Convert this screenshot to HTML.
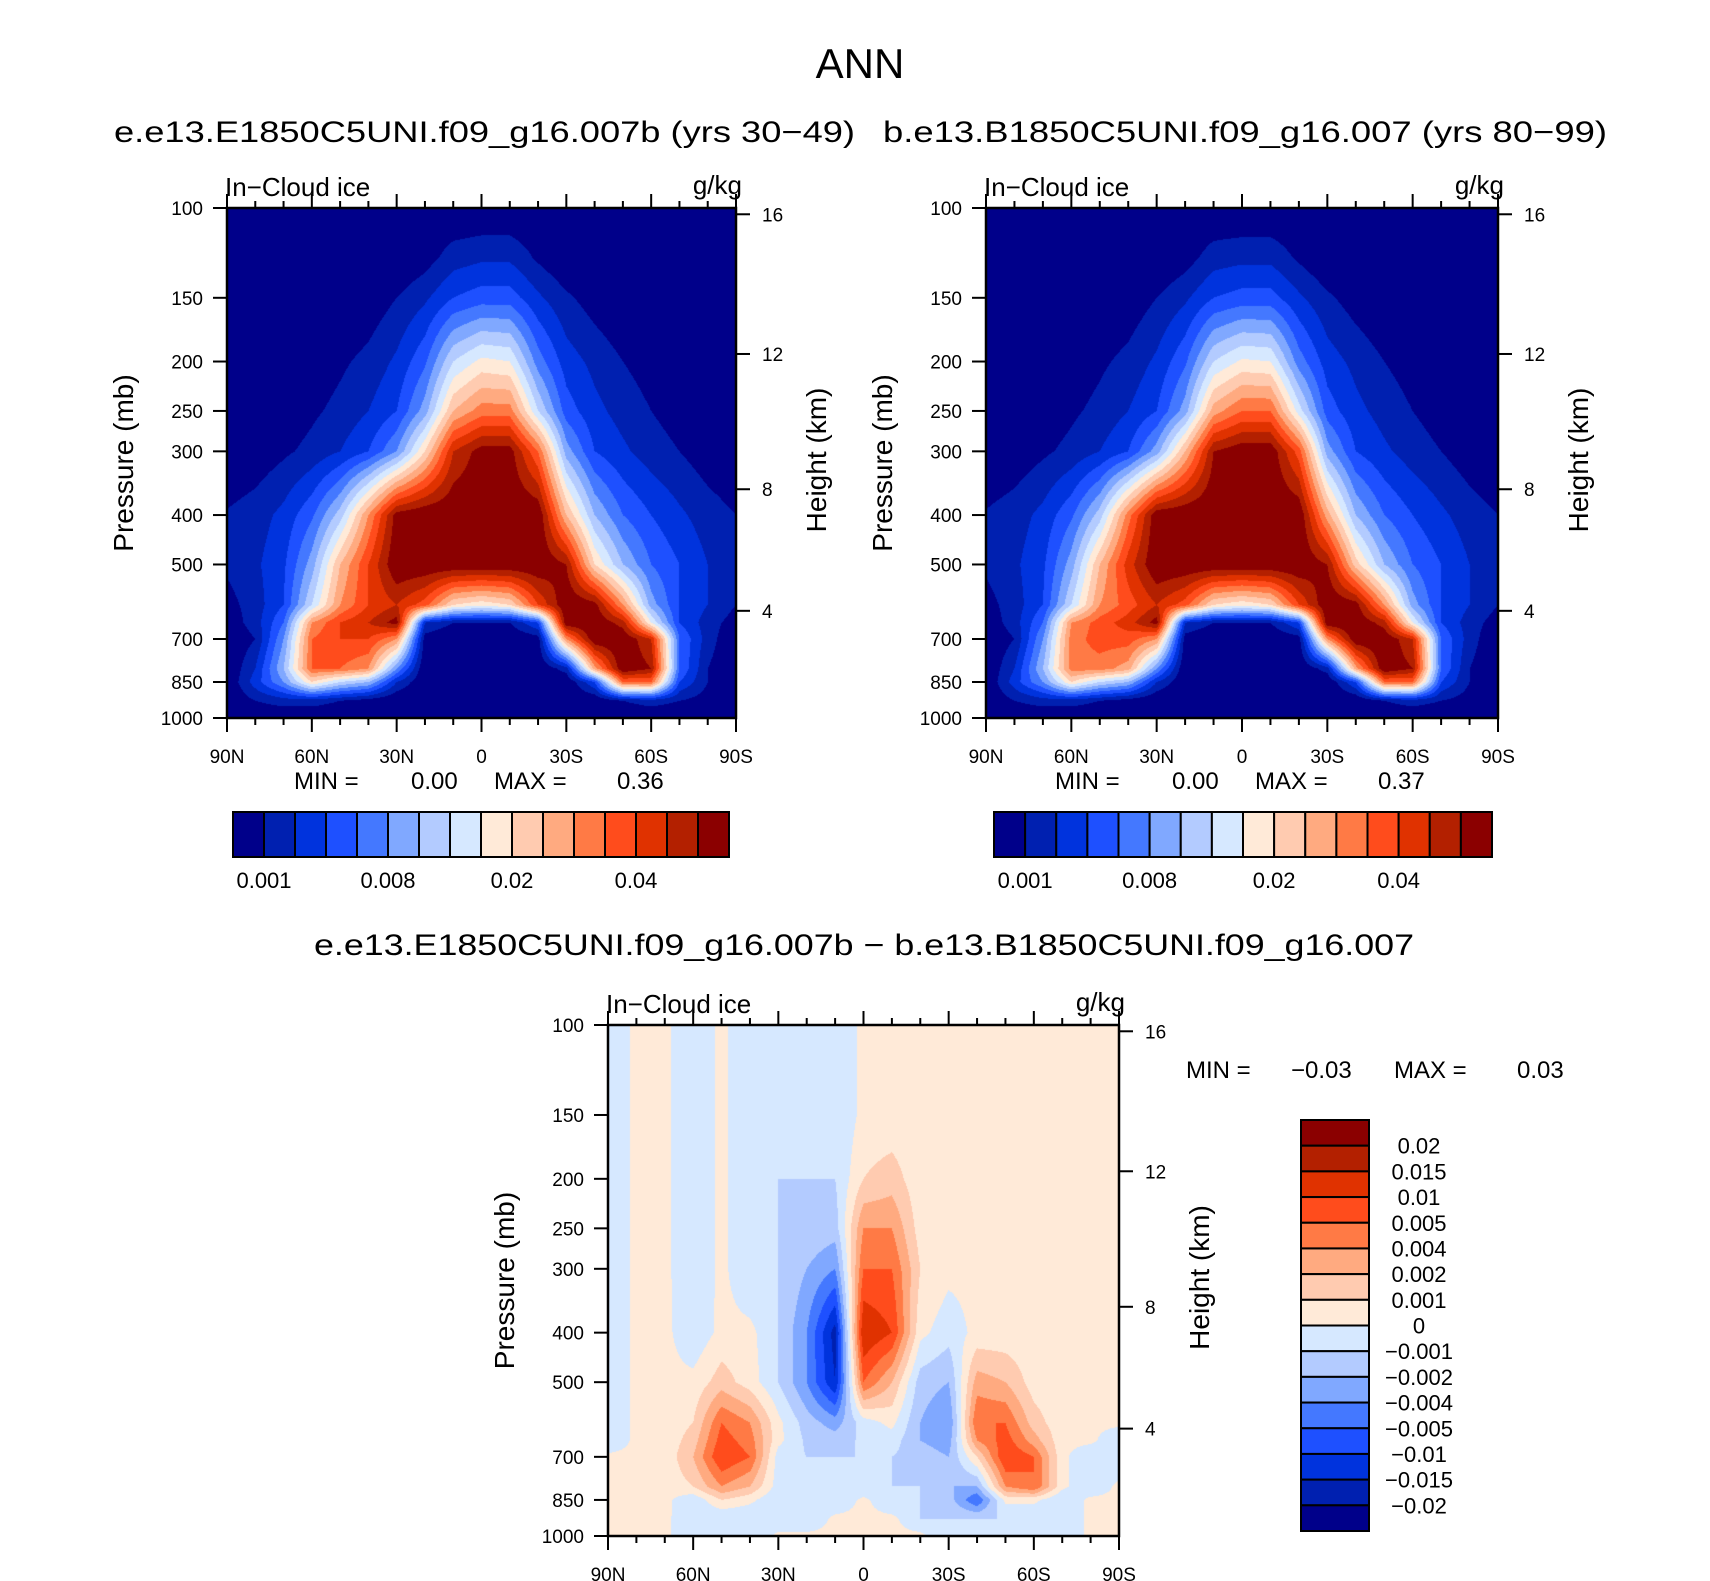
<!DOCTYPE html>
<html><head><meta charset="utf-8">
<style>
html,body{margin:0;padding:0;background:#fff;}
#root{position:relative;width:1710px;height:1581px;overflow:hidden;font-family:"Liberation Sans",sans-serif;}
canvas{position:absolute;}
svg{position:absolute;left:0;top:0;}
</style></head>
<body>
<div id="root">
<canvas id="c1"></canvas>
<canvas id="c2"></canvas>
<canvas id="c3"></canvas>
<svg id="ov" width="1710" height="1581"></svg>
</div>
<script>
// ---- data ----
const lats = [90,80,70,60,50,40,30,20,10,0,-10,-20,-30,-40,-50,-60,-70,-80,-90];
const levels = [100,125,150,200,250,300,400,500,600,650,700,800,850,925,1000];
const colors = ["#00008a","#0020b0","#0033dd","#1e50ff","#4478ff","#80a8ff","#b3cbff","#d6e8ff","#ffead8","#ffcbb0","#ffaa80","#ff7a45","#ff4c1c","#e03200","#b32000","#8b0000"];
const cbLabelsTop = ["0.001","0.008","0.02","0.04"];
const cbLabelIdxTop = [1,5,9,13];
const cbLabelsDiff = ["0.02","0.015","0.01","0.005","0.004","0.002","0.001","0","-0.001","-0.002","-0.004","-0.005","-0.01","-0.015","-0.02"];
const pTicks = [100,150,200,250,300,400,500,700,850,1000];
const kmTicks = [16,12,8,4];
const latTickLabels = ["90N","60N","30N","0","30S","60S","90S"];
const latTickVals = [90,60,30,0,-30,-60,-90];
// values in colour-class units (class k = band k of the colourbar)
const iceA = [
[0,0,0,0,0,0,0,0,0,0,0,0,0,0,0,0,0,0,0],
[0,0,0,0,0,0,0,0.5,1.5,1.8,1.8,0.8,0,0,0,0,0,0,0],
[0,0,0,0,0,0.3,1,1.8,3,3.5,3.5,2.2,1.2,0.5,0,0,0,0,0],
[0,0,0,0.3,0.8,1.3,2.2,3.8,7,8.3,8,4.5,2.5,1.7,1,0.5,0,0,0],
[0,0,0.3,0.8,1.3,2,3,5.5,10,11.5,11.5,7,3.5,2.3,1.6,1,0.5,0,0],
[0,0.3,0.8,1.3,2,3,5,9,14,15.5,15.5,12,5.5,3,2.2,1.5,1,0.4,0],
[1.1,1.5,2.3,3.8,6.5,11,15.5,16,16,16,16,16,10,6,4,3,2.2,1.5,1],
[1.2,1.8,2.8,5.5,10,13,16,16,16,16,16,16,15,9,6,4,3,2,1.5],
[0.6,1.5,3,7,11,13,14,12.5,9,8.3,9,13,16,15.5,11,5.5,3,2,1],
[0.3,1.5,4,11,13,14,15.5,2,1,1,1,3,16,16,14.5,8,3,1.5,0.5],
[0,1,5,12,13,13,11,0.5,0,0,0,0.5,11,16,16,14,4,1.5,0],
[0,2,6,12,12,11,5,0,0,0,0,0,1.5,10.5,16,15,4,1,0],
[0,2.5,5,9,7,6,2,0,0,0,0,0,0,3,12,12,3,1,0],
[0,1,1.5,1.5,1,0.5,0,0,0,0,0,0,0,0,1,1.5,1,0.5,0],
[0,0,0,0,0,0,0,0,0,0,0,0,0,0,0,0,0,0,0]];
const iceB = [
[0,0,0,0,0,0,0,0,0,0,0,0,0,0,0,0,0,0,0],
[0,0,0,0,0,0,0,0.5,1.5,1.7,1.7,0.8,0,0,0,0,0,0,0],
[0,0,0,0,0,0.3,1,1.8,3,3.4,3.4,2.2,1.2,0.5,0,0,0,0,0],
[0,0,0,0.3,0.8,1.3,2.2,3.8,7,8.2,8,4.5,2.5,1.7,1,0.5,0,0,0],
[0,0,0.3,0.8,1.3,2,3,5.5,10.5,12,12,7.5,3.5,2.3,1.6,1,0.5,0,0],
[0,0.3,0.8,1.3,2,3,5.5,10,15,15.8,15.8,12.5,5.5,3,2.2,1.5,1,0.4,0],
[1.1,1.5,2.3,3.8,6.5,11.5,15.8,16,16,16,16,16,10.5,6,4,3,2.2,1.5,1],
[1.2,1.8,2.8,5.5,10,13.5,16,16,16,16,16,16,15,9.5,6,4,3,2,1.5],
[0.6,1.5,3,7,11,12.5,14,12.5,9,8.3,9,13,16,15.5,11,5.5,3,2,1],
[0.3,1.5,4,11,12.5,13.5,15.5,2,1,1,1,3,16,16,14.5,8,3,1.5,0.5],
[0,1,5,11.5,12.5,12.5,11,0.5,0,0,0,0.5,11,16,16,14,4,1.5,0],
[0,2,6,11.5,11.5,10.5,5,0,0,0,0,0,1.5,10.5,16,15,4,1,0],
[0,2.5,5,9,7,6,2,0,0,0,0,0,0,3,12,12,3,1,0],
[0,1,1.5,1.5,1,0.5,0,0,0,0,0,0,0,0,1,1.5,1,0.5,0],
[0,0,0,0,0,0,0,0,0,0,0,0,0,0,0,0,0,0,0]];
const iceDiff = [
[7,8.3,8.3,7,8.3,7,7,7,7,8.3,8.3,8.3,8.3,8.3,8.3,8.3,8.3,8.3,8.3],
[7,8.3,8.3,7,8.3,7,7,7,7,8.3,8.3,8.3,8.3,8.3,8.3,8.3,8.3,8.3,8.3],
[7,8.3,8.3,7,8.3,7,7,7,7,8.3,8.3,8.3,8.3,8.3,8.3,8.3,8.3,8.3,8.3],
[7,8.3,8.3,7,8.3,7,7,7,7,9,9.5,8.3,8.3,8.3,8.3,8.3,8.3,8.3,8.3],
[7,8.3,8.3,7,8.3,7,7,6.8,6.5,11,11,8.5,8.3,8.3,8.3,8.3,8.3,8.3,8.3],
[7,8.3,8.3,7,8.3,7,7,6,5,12,12,9,8.3,8.3,8.3,8.3,8.3,8.3,8.3],
[7,8.3,8.3,7.2,8.3,8.3,7,5,1.5,14,13,8.3,7.4,8.3,8.3,8.3,8.3,8.3,8.3],
[7,8.3,8.3,8.3,9.5,8.5,7,5,2,12,10,6.5,6,10.5,10,8.5,8.3,8.3,8.3],
[7,8.3,8.3,9,12,11,8.3,6.5,5.5,7.5,8.3,6,5,12,12,9.5,8.3,8.3,8.3],
[7,8.3,8.3,9.5,12.5,11.5,8.3,6.8,6.5,7.2,7.5,6,5.5,11,12.5,10.5,8.3,8.3,7],
[8.3,8.3,8.3,10,13,12,7.5,7,7,7,7,6.5,6,9,13,12,8.3,7,7],
[8.3,8.3,8.3,9,11,10,7.5,7,7,7,7,7,6,6,11,12,8.3,7,8.3],
[8.3,8.3,8.3,7.2,9,8.3,7,7,7,8.3,7,7,6.5,4,8.3,8.3,7,8.3,8.3],
[8.3,8.3,8.3,7,7,7,7,7,8.3,8.3,8.3,7,7,7,7,7,7,8.3,8.3],
[8.3,8.3,8.3,7,7,7,8.3,8.3,8.3,8.3,8.3,8.3,7,7,7,7,7,8.3,8.3]];

// ---- helpers ----
const NS="http://www.w3.org/2000/svg";
const ov=document.getElementById('ov');
function el(tag,attrs,txt){const e=document.createElementNS(NS,tag);for(const k in attrs)e.setAttribute(k,attrs[k]);if(txt!==undefined)e.textContent=txt;ov.appendChild(e);return e;}
function txt(x,y,s,size,anchor,name,extra){
  const t=el('text',Object.assign({x:x,y:y,'font-size':size,'text-anchor':anchor||'start','font-family':'Liberation Sans, sans-serif',fill:'#000'},extra||{}),s.replace(/-/g,'\u2212'));
  
  
  return t;
}
function line(x1,y1,x2,y2,w,name){
  const l=el('line',{x1:x1,y1:y1,x2:x2,y2:y2,stroke:'#000','stroke-width':w});
  
  
  return l;
}
function sample(grid,lat,p){
  const lp=Math.log(p);
  let r=0;while(r<levels.length-2&&lp>Math.log(levels[r+1]))r++;
  const fr=(lp-Math.log(levels[r]))/(Math.log(levels[r+1])-Math.log(levels[r]));
  const cf=(90-lat)/10;let c=Math.min(Math.floor(cf),lats.length-2);const fc=cf-c;
  const v00=grid[r][c],v01=grid[r][c+1],v10=grid[r+1][c],v11=grid[r+1][c+1];
  return (v00*(1-fc)+v01*fc)*(1-fr)+(v10*(1-fc)+v11*fc)*fr;
}
function pressureOfKm(z){z*=1000;return z<=11000?1013.25*Math.pow(1-2.25577e-5*z,5.25588):226.32*Math.exp(-(z-11000)/6341.6);}
const rgb=colors.map(c=>[parseInt(c.slice(1,3),16),parseInt(c.slice(3,5),16),parseInt(c.slice(5,7),16)]);

function panel(cid,grid,X0,Y0,W,H,ttlPrefix){
  const xOf=lat=>X0+(90-lat)/180*W;
  const yOf=p=>Y0+H*Math.log10(p/100);
  const cv=document.getElementById(cid);
  cv.width=W;cv.height=H;cv.style.left=X0+'px';cv.style.top=Y0+'px';
  const ctx=cv.getContext('2d');const img=ctx.createImageData(W,H);
  for(let j=0;j<H;j++){
    const p=100*Math.pow(10,(j+0.5)/H);
    for(let i=0;i<W;i++){
      const lat=90-(i+0.5)/W*180;
      let k=Math.floor(sample(grid,lat,p)+1e-6);k=Math.max(0,Math.min(15,k));
      const o=(j*W+i)*4;img.data[o]=rgb[k][0];img.data[o+1]=rgb[k][1];img.data[o+2]=rgb[k][2];img.data[o+3]=255;
    }
  }
  ctx.putImageData(img,0,0);
  const fr=el('rect',{x:X0,y:Y0,width:W,height:H,fill:'none',stroke:'#000','stroke-width':2.5});
  
  
  pTicks.forEach(p=>{const y=yOf(p);line(X0-14,y,X0,y,2,ttlPrefix+'-pressure-tick');txt(X0-24,y+7,String(p),19,'end',ttlPrefix+'-pressure-label');});
  kmTicks.forEach(z=>{const y=yOf(pressureOfKm(z));line(X0+W,y,X0+W+14,y,2,ttlPrefix+'-height-tick');txt(X0+W+26,y+7,String(z),19,'start',ttlPrefix+'-height-label');});
  for(let lat=90;lat>=-90;lat-=10){
    const x=xOf(lat);const major=lat%30===0;const len=major?14:7;
    line(x,Y0+H,x,Y0+H+len,2,ttlPrefix+'-lat-tick-bottom');
    line(x,Y0,x,Y0-len,2,ttlPrefix+'-lat-tick-top');
  }
  latTickVals.forEach((v,i)=>txt(xOf(v),Y0+H+45,latTickLabels[i],19,'middle',ttlPrefix+'-lat-label'));
  txt(X0-2,Y0-12,'In-Cloud ice',26,'start',ttlPrefix+'-variable-label');
  txt(X0+W+6,Y0-14,'g/kg',26,'end',ttlPrefix+'-units-label');
  txt(0,0,'Pressure (mb)',28,'middle',ttlPrefix+'-y-axis-title',{transform:`translate(${X0-94},${Y0+H/2}) rotate(-90)`});
  txt(0,0,'Height (km)',28,'middle',ttlPrefix+'-right-axis-title',{transform:`translate(${X0+W+90},${Y0+H/2-3}) rotate(-90)`});
}
function hbar(X0,Y0,W,H,pre){
  const bw=W/16;
  colors.forEach((c,i)=>{const r=el('rect',{x:X0+i*bw,y:Y0,width:bw,height:H,fill:c,stroke:'#000','stroke-width':2});
    
    });
  cbLabelIdxTop.forEach((k,i)=>txt(X0+k*bw,Y0+H+31,cbLabelsTop[i],22,'middle',pre+'-colorbar-label'));
}

// ---- layout ----
txt(860,78,'ANN',42,'middle','figure-title');
txt(114,142,'e.e13.E1850C5UNI.f09_g16.007b (yrs 30-49)',30,'start','left-panel-title',{textLength:741,lengthAdjust:'spacingAndGlyphs'});
txt(883,142,'b.e13.B1850C5UNI.f09_g16.007 (yrs 80-99)',30,'start','right-panel-title',{textLength:724,lengthAdjust:'spacingAndGlyphs'});
panel('c1',iceA,227,208,509,510,'left');
panel('c2',iceB,986,208,512,510,'right');
txt(294,789,'MIN =',24,'start','left-min-label');txt(411,789,'0.00',24,'start','left-min-value');
txt(494,789,'MAX =',24,'start','left-max-label');txt(617,789,'0.36',24,'start','left-max-value');
txt(1055,789,'MIN =',24,'start','right-min-label');txt(1172,789,'0.00',24,'start','right-min-value');
txt(1255,789,'MAX =',24,'start','right-max-label');txt(1378,789,'0.37',24,'start','right-max-value');
hbar(233,812,496,45,'left');
hbar(994,812,498,45,'right');
txt(864,955,'e.e13.E1850C5UNI.f09_g16.007b - b.e13.B1850C5UNI.f09_g16.007',30,'middle','difference-title',{textLength:1100,lengthAdjust:'spacingAndGlyphs'});
panel('c3',iceDiff,608,1025,511,511,'diff');
txt(1186,1078,'MIN =',24,'start','diff-min-label');txt(1291,1078,'-0.03',24,'start','diff-min-value');
txt(1394,1078,'MAX =',24,'start','diff-max-label');txt(1517,1078,'0.03',24,'start','diff-max-value');
(function(){
  const X0=1301,Y0=1120,W=68,H=411,bh=H/16;
  for(let i=0;i<16;i++){
    const r=el('rect',{x:X0,y:Y0+i*bh,width:W,height:bh,fill:colors[15-i],stroke:'#000','stroke-width':2});
    
    
  }
  cbLabelsDiff.forEach((s,i)=>txt(1419,Y0+(i+1)*bh+8,s,22,'middle','diff-colorbar-label'));
})();
</script>
</body></html>
